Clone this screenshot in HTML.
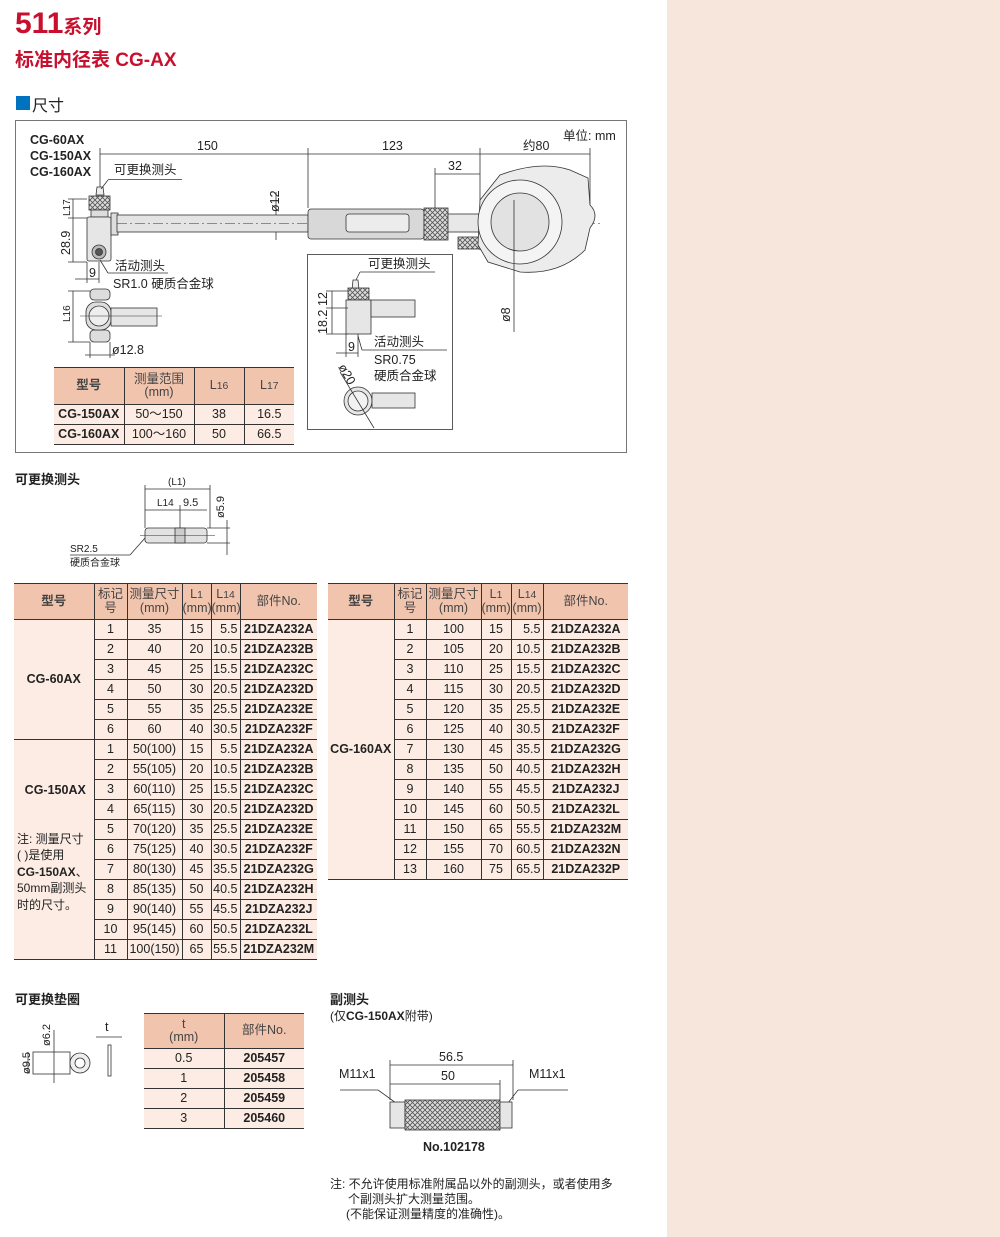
<!DOCTYPE html>
<html><head><meta charset="utf-8">
<style>
*{margin:0;padding:0;box-sizing:border-box}
body{width:1000px;height:1237px;background:#fff;position:relative;overflow:hidden;font-family:"Liberation Sans Narrow","Liberation Sans","Noto Sans CJK SC",sans-serif;color:#222}
.abs{position:absolute}
.side{left:667px;top:0;width:333px;height:1237px;background:#f6e6db}
table{border-collapse:collapse;table-layout:fixed;position:absolute;font-size:12.5px}
td,th{border-bottom:1px solid #333;text-align:center;padding:0;line-height:1.05;white-space:nowrap;overflow:hidden}
th{background:#f1c4ae;font-weight:normal;color:#444;border-top:1px solid #333}
td{background:#fcece4;height:20px}
td+td,th+th{border-left:1px solid #333}
td.rs{border-right:1px solid #333}
.b{font-weight:bold}
.r{text-align:right;padding-right:2px}
.m{font-weight:bold;font-size:12.5px}
svg text{font-family:"Liberation Sans Narrow","Liberation Sans","Noto Sans CJK SC",sans-serif;fill:#222}
</style></head><body>
<div class="abs side"></div>
<div class="abs" style="left:15px;top:7px;color:#c8102e;font-weight:bold;font-size:30px;font-family:'Liberation Sans','Noto Sans CJK SC',sans-serif">511<span style="font-size:19px;font-weight:bold">系列</span></div>
<div class="abs" style="left:15px;top:45px;color:#c8102e;font-weight:bold;font-size:19px;font-family:'Liberation Sans','Noto Sans CJK SC',sans-serif">标准内径表 CG-AX</div>
<div class="abs" style="left:16px;top:96px;width:14px;height:14px;background:#0073c0"></div>
<div class="abs" style="left:32px;top:92px;font-size:16px;font-family:'Noto Sans CJK SC',sans-serif">尺寸</div>

<svg class="abs" style="left:0;top:0" width="1000" height="1237" viewBox="0 0 1000 1237">
<defs>
<pattern id="kn" width="5" height="5" patternUnits="userSpaceOnUse"><rect width="5" height="5" fill="#ddd"/><path d="M0 0L5 5M5 0L0 5" stroke="#555" stroke-width="0.8"/></pattern>
</defs>
<g fill="none" stroke="#333" stroke-width="0.8">
<rect x="15.5" y="120.5" width="611" height="332" stroke="#555"/>
<line x1="100" y1="154" x2="590" y2="154"/>
<line x1="100" y1="148" x2="100" y2="190"/><line x1="308" y1="148" x2="308" y2="208"/>
<line x1="480" y1="148" x2="480" y2="250"/><line x1="590" y1="148" x2="590" y2="228"/>
<line x1="435" y1="174" x2="480" y2="174"/><line x1="435" y1="168" x2="435" y2="208"/>
<line x1="276" y1="192" x2="276" y2="240"/>
<path d="M96 195 L97 187 L103 187 L104 195Z" fill="#eee"/>
<rect x="89" y="196" width="21" height="14" fill="url(#kn)"/>
<rect x="91" y="210" width="17" height="7" fill="#ddd"/>
<rect x="87" y="217" width="24" height="44" rx="2" fill="#e6e6e6"/>
<circle cx="99" cy="252" r="7" fill="#bbb"/><circle cx="99" cy="252" r="3.5" fill="#555"/>
<rect x="111" y="213" width="7" height="22" fill="#ddd"/>
<rect x="117" y="215" width="191" height="17" fill="#e4e4e4"/>
<line x1="117" y1="223.5" x2="600" y2="223.5" stroke-dasharray="10 3 2 3" stroke-width="0.5"/>
<rect x="308" y="209" width="116" height="30" rx="3" fill="#d8d8d8"/>
<rect x="346" y="214" width="63" height="18" rx="3" fill="#ececec"/>
<rect x="424" y="208" width="24" height="32" fill="url(#kn)"/>
<rect x="448" y="214" width="32" height="18" fill="#e8e8e8"/>
<rect x="458" y="237" width="23" height="12" fill="url(#kn)"/>
<path d="M480 200 L500 175 Q540 160 570 170 L588 178 L590 205 Q600 215 590 228 L585 250 Q560 275 520 272 L488 262 L478 245Z" fill="#ececec"/>
<circle cx="520" cy="222" r="42" fill="#f4f4f4"/>
<circle cx="520" cy="222" r="29" fill="#e2e2e2"/>
<line x1="514" y1="200" x2="514" y2="332"/>
<line x1="68" y1="199" x2="87" y2="199"/><line x1="68" y1="218" x2="87" y2="218"/><line x1="68" y1="262" x2="87" y2="262"/>
<line x1="73" y1="199" x2="73" y2="262"/>
<line x1="87" y1="262" x2="87" y2="283"/><line x1="99" y1="262" x2="99" y2="283"/>
<line x1="75" y1="279" x2="99" y2="279"/>
<line x1="108" y1="179.5" x2="182" y2="179.5"/><line x1="108" y1="180" x2="101" y2="189"/>
<line x1="108" y1="273" x2="168" y2="273"/><line x1="108" y1="273" x2="100" y2="260"/>
<rect x="90" y="289" width="20" height="11" rx="4" fill="#ddd"/>
<rect x="90" y="330" width="20" height="12" rx="4" fill="#ddd"/>
<rect x="86" y="302" width="25" height="28" rx="10" fill="#ddd"/>
<circle cx="99" cy="316" r="10" fill="#eee"/>
<rect x="111" y="308" width="46" height="18" fill="#e6e6e6"/>
<line x1="80" y1="316" x2="162" y2="316" stroke-width="0.5"/>
<line x1="68" y1="291" x2="90" y2="291"/><line x1="68" y1="342" x2="90" y2="342"/><line x1="73" y1="291" x2="73" y2="342"/>
<line x1="90" y1="342" x2="90" y2="358"/><line x1="110" y1="342" x2="110" y2="358"/><line x1="85" y1="355" x2="115" y2="355"/>
<rect x="307.5" y="254.5" width="145" height="175"/>
<line x1="360" y1="272" x2="435" y2="272"/><line x1="360" y1="272" x2="356" y2="280"/>
<path d="M352 290 L353 280 L358 280 L359 290Z" fill="#eee"/>
<rect x="348" y="288" width="21" height="12" fill="url(#kn)"/>
<rect x="346" y="300" width="25" height="34" fill="#e6e6e6"/>
<rect x="371" y="300" width="44" height="17" fill="#e6e6e6"/>
<line x1="326" y1="291" x2="348" y2="291"/><line x1="326" y1="308" x2="348" y2="308"/><line x1="326" y1="334" x2="348" y2="334"/>
<line x1="332" y1="291" x2="332" y2="334"/>
<line x1="346" y1="334" x2="346" y2="357"/><line x1="358" y1="334" x2="358" y2="357"/><line x1="336" y1="353" x2="358" y2="353"/>
<line x1="362" y1="350" x2="447" y2="350"/><line x1="362" y1="350" x2="358" y2="336"/>
<circle cx="358" cy="401" r="14" fill="#e6e6e6"/><circle cx="358" cy="401" r="10" fill="#f2f2f2"/>
<rect x="372" y="393" width="43" height="15" fill="#e6e6e6"/>
<line x1="340" y1="372" x2="374" y2="428"/>
<rect x="145" y="528" width="62" height="15" rx="3" fill="#e2e2e2"/>
<rect x="175" y="528" width="10" height="15" fill="#ccc"/>
<line x1="140" y1="535.5" x2="215" y2="535.5" stroke-width="0.5"/>
<line x1="145" y1="489" x2="210" y2="489"/><line x1="145" y1="510" x2="207" y2="510"/>
<line x1="145" y1="485" x2="145" y2="528"/><line x1="210" y1="485" x2="210" y2="528"/><line x1="180" y1="505" x2="180" y2="528"/>
<line x1="227" y1="520" x2="227" y2="555"/><line x1="207" y1="528" x2="230" y2="528"/><line x1="207" y1="543" x2="230" y2="543"/>
<line x1="70" y1="555" x2="130" y2="555"/><line x1="130" y1="555" x2="145" y2="538"/>
<rect x="33" y="1052" width="37" height="22"/>
<circle cx="80" cy="1063" r="10" fill="#eee"/><circle cx="80" cy="1063" r="5" fill="#fff"/>
<line x1="54" y1="1030" x2="54" y2="1083"/><line x1="28" y1="1052" x2="28" y2="1074"/>
<rect x="108" y="1045" width="3" height="31"/>
<line x1="96" y1="1037" x2="122" y2="1037"/>
<line x1="390" y1="1065" x2="513" y2="1065"/><line x1="390" y1="1084" x2="500" y2="1084"/>
<line x1="390" y1="1060" x2="390" y2="1100"/><line x1="513" y1="1060" x2="513" y2="1100"/><line x1="500" y1="1080" x2="500" y2="1100"/>
<line x1="340" y1="1090" x2="378" y2="1090"/><line x1="378" y1="1090" x2="396" y2="1103"/>
<line x1="518" y1="1090" x2="568" y2="1090"/><line x1="518" y1="1090" x2="508" y2="1103"/>
<rect x="390" y="1102" width="15" height="26" fill="#e6e6e6"/>
<rect x="405" y="1100" width="95" height="30" fill="url(#kn)"/>
<rect x="500" y="1102" width="12" height="26" fill="#e6e6e6"/>
</g>
<g font-size="12.5">
<text x="30" y="144" font-weight="bold">CG-60AX</text>
<text x="30" y="160" font-weight="bold">CG-150AX</text>
<text x="30" y="176" font-weight="bold">CG-160AX</text>
<text x="197" y="150">150</text><text x="382" y="150">123</text><text x="523" y="150">约80</text>
<text x="563" y="140">单位: mm</text><text x="448" y="170">32</text>
<text x="114" y="174">可更换测头</text>
<text transform="translate(279,212) rotate(-90)">ø12</text>
<text transform="translate(70,216) rotate(-90)" font-size="10">L17</text>
<text transform="translate(70,255) rotate(-90)">28.9</text>
<text x="89" y="277">9</text>
<text x="115" y="270">活动测头</text><text x="113" y="288">SR1.0 硬质合金球</text>
<text transform="translate(70,322) rotate(-90)" font-size="10">L16</text>
<text x="112" y="354">ø12.8</text>
<text x="368" y="268">可更换测头</text>
<text transform="translate(327,334) rotate(-90)">18.2</text>
<text transform="translate(327,306) rotate(-90)">12</text>
<text x="348" y="351">9</text>
<text x="374" y="346">活动测头</text><text x="374" y="364">SR0.75</text><text x="374" y="380">硬质合金球</text>
<text transform="translate(338,367) rotate(60)">ø20</text>
<text transform="translate(510,322) rotate(-90)">ø8</text>
<text x="15" y="484" font-weight="bold" font-size="13">可更换测头</text>
<text x="168" y="485" font-size="10">(L1)</text>
<text x="157" y="506" font-size="10">L14</text><text x="183" y="506" font-size="11">9.5</text>
<text transform="translate(224,518) rotate(-90)" font-size="11">ø5.9</text>
<text x="70" y="552" font-size="10">SR2.5</text><text x="70" y="566" font-size="10">硬质合金球</text>
<text x="15" y="1004" font-weight="bold" font-size="13">可更换垫圈</text>
<text transform="translate(50,1046) rotate(-90)" font-size="11">ø6.2</text>
<text transform="translate(30,1074) rotate(-90)" font-size="11">ø9.5</text>
<text x="105" y="1031">t</text>
<text x="330" y="1004" font-weight="bold" font-size="13">副测头</text>
<text x="330" y="1020" font-size="12">(仅<tspan font-weight="bold">CG-150AX</tspan>附带)</text>
<text x="439" y="1061">56.5</text><text x="441" y="1080">50</text>
<text x="339" y="1078">M11x1</text><text x="529" y="1078">M11x1</text>
<text x="423" y="1151" font-weight="bold">No.102178</text>
<text x="330" y="1188" font-size="12">注: 不允许使用标准附属品以外的副测头，或者使用多</text>
<text x="348" y="1203" font-size="12">个副测头扩大测量范围。</text>
<text x="346" y="1218" font-size="12">(不能保证测量精度的准确性)。</text>
</g>
</svg>

<table style="left:54px;top:367px;width:240px">
<colgroup><col style="width:70px"><col style="width:70px"><col style="width:50px"><col style="width:50px"></colgroup>
<tr style="height:37px"><th class="b">型号</th><th>测量范围<br>(mm)</th><th>L<small>16</small></th><th>L<small>17</small></th></tr>
<tr><td class="b">CG-150AX</td><td>50～150</td><td>38</td><td>16.5</td></tr>
<tr><td class="b">CG-160AX</td><td>100～160</td><td>50</td><td>66.5</td></tr>
</table>

<table style="left:14px;top:583px;width:303px">
<colgroup><col style="width:80px"><col style="width:33px"><col style="width:55px"><col style="width:29px"><col style="width:29px"><col style="width:77px"></colgroup>
<tr style="height:36px"><th class="b">型号</th><th>标记<br>号</th><th>测量尺寸<br>(mm)</th><th>L<small>1</small><br>(mm)</th><th>L<small>14</small><br>(mm)</th><th>部件No.</th></tr>
<tr><td rowspan="6" class="m rs">CG-60AX</td><td>1</td><td>35</td><td>15</td><td class="r">5.5</td><td class="b">21DZA232A</td></tr>
<tr><td>2</td><td>40</td><td>20</td><td class="r">10.5</td><td class="b">21DZA232B</td></tr>
<tr><td>3</td><td>45</td><td>25</td><td class="r">15.5</td><td class="b">21DZA232C</td></tr>
<tr><td>4</td><td>50</td><td>30</td><td class="r">20.5</td><td class="b">21DZA232D</td></tr>
<tr><td>5</td><td>55</td><td>35</td><td class="r">25.5</td><td class="b">21DZA232E</td></tr>
<tr><td>6</td><td>60</td><td>40</td><td class="r">30.5</td><td class="b">21DZA232F</td></tr>
<tr><td rowspan="11" class="rs" style="vertical-align:top;text-align:left;padding:42px 0 0 3px;white-space:normal;font-size:12px;line-height:16.5px"><div class="m" style="text-align:center;margin-bottom:32px">CG-150AX</div>注: 测量尺寸<br>( )是使用<br><b>CG-150AX</b>、<br>50mm副测头<br>时的尺寸。</td><td>1</td><td>50(100)</td><td>15</td><td class="r">5.5</td><td class="b">21DZA232A</td></tr>
<tr><td>2</td><td>55(105)</td><td>20</td><td class="r">10.5</td><td class="b">21DZA232B</td></tr>
<tr><td>3</td><td>60(110)</td><td>25</td><td class="r">15.5</td><td class="b">21DZA232C</td></tr>
<tr><td>4</td><td>65(115)</td><td>30</td><td class="r">20.5</td><td class="b">21DZA232D</td></tr>
<tr><td>5</td><td>70(120)</td><td>35</td><td class="r">25.5</td><td class="b">21DZA232E</td></tr>
<tr><td>6</td><td>75(125)</td><td>40</td><td class="r">30.5</td><td class="b">21DZA232F</td></tr>
<tr><td>7</td><td>80(130)</td><td>45</td><td class="r">35.5</td><td class="b">21DZA232G</td></tr>
<tr><td>8</td><td>85(135)</td><td>50</td><td class="r">40.5</td><td class="b">21DZA232H</td></tr>
<tr><td>9</td><td>90(140)</td><td>55</td><td class="r">45.5</td><td class="b">21DZA232J</td></tr>
<tr><td>10</td><td>95(145)</td><td>60</td><td class="r">50.5</td><td class="b">21DZA232L</td></tr>
<tr><td>11</td><td>100(150)</td><td>65</td><td class="r">55.5</td><td class="b">21DZA232M</td></tr>
</table>

<table style="left:328px;top:583px;width:300px">
<colgroup><col style="width:66px"><col style="width:32px"><col style="width:55px"><col style="width:30px"><col style="width:32px"><col style="width:85px"></colgroup>
<tr style="height:36px"><th class="b">型号</th><th>标记<br>号</th><th>测量尺寸<br>(mm)</th><th>L<small>1</small><br>(mm)</th><th>L<small>14</small><br>(mm)</th><th>部件No.</th></tr>
<tr><td rowspan="13" class="m rs">CG-160AX</td><td>1</td><td>100</td><td>15</td><td class="r">5.5</td><td class="b">21DZA232A</td></tr>
<tr><td>2</td><td>105</td><td>20</td><td class="r">10.5</td><td class="b">21DZA232B</td></tr>
<tr><td>3</td><td>110</td><td>25</td><td class="r">15.5</td><td class="b">21DZA232C</td></tr>
<tr><td>4</td><td>115</td><td>30</td><td class="r">20.5</td><td class="b">21DZA232D</td></tr>
<tr><td>5</td><td>120</td><td>35</td><td class="r">25.5</td><td class="b">21DZA232E</td></tr>
<tr><td>6</td><td>125</td><td>40</td><td class="r">30.5</td><td class="b">21DZA232F</td></tr>
<tr><td>7</td><td>130</td><td>45</td><td class="r">35.5</td><td class="b">21DZA232G</td></tr>
<tr><td>8</td><td>135</td><td>50</td><td class="r">40.5</td><td class="b">21DZA232H</td></tr>
<tr><td>9</td><td>140</td><td>55</td><td class="r">45.5</td><td class="b">21DZA232J</td></tr>
<tr><td>10</td><td>145</td><td>60</td><td class="r">50.5</td><td class="b">21DZA232L</td></tr>
<tr><td>11</td><td>150</td><td>65</td><td class="r">55.5</td><td class="b">21DZA232M</td></tr>
<tr><td>12</td><td>155</td><td>70</td><td class="r">60.5</td><td class="b">21DZA232N</td></tr>
<tr><td>13</td><td>160</td><td>75</td><td class="r">65.5</td><td class="b">21DZA232P</td></tr>
</table>

<table style="left:144px;top:1013px;width:160px">
<colgroup><col style="width:80px"><col style="width:80px"></colgroup>
<tr style="height:35px"><th>t<br>(mm)</th><th>部件No.</th></tr>
<tr><td>0.5</td><td class="b">205457</td></tr>
<tr><td>1</td><td class="b">205458</td></tr>
<tr><td>2</td><td class="b">205459</td></tr>
<tr><td>3</td><td class="b">205460</td></tr>
</table>
</body></html>
